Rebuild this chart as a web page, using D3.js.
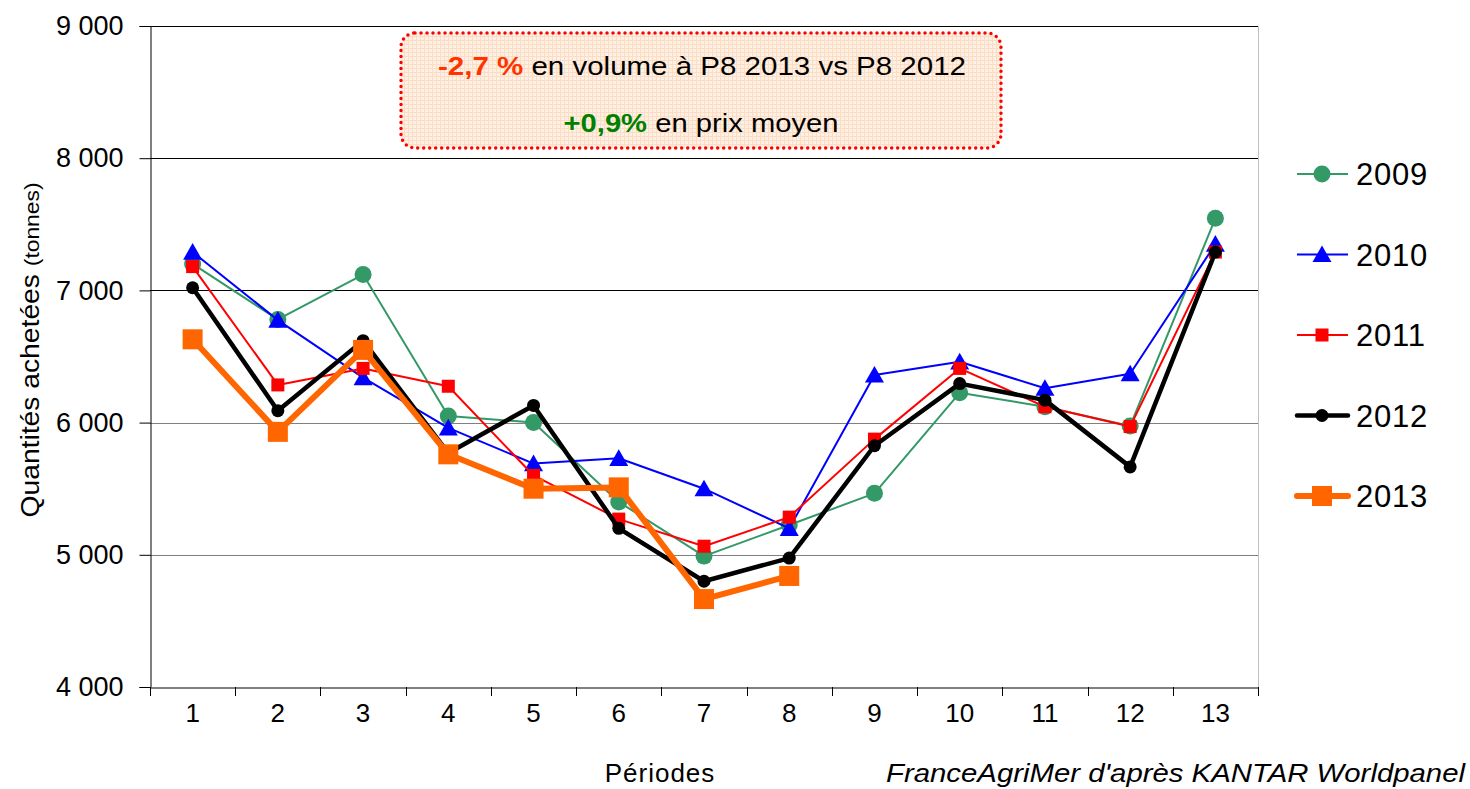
<!DOCTYPE html>
<html><head><meta charset="utf-8">
<script src="https://cdn.jsdelivr.net/npm/d3@7"></script>
<style>body{margin:0;background:#fff}svg{display:block;font-family:"Liberation Sans",Arial,sans-serif}</style>
</head><body><svg id="c" width="1470" height="789"></svg>
<script>
const periods = [1,2,3,4,5,6,7,8,9,10,11,12,13];
const yTicks = [4000,5000,6000,7000,8000,9000];
const years = ["2009","2010","2011","2012","2013"];
const v2009 = [7200,6780,7120,6050,6000,5400,4990,5225,5465,6225,6120,5975,7545];
const v2010 = [7290,6775,6340,5960,5690,5730,5500,5200,6360,6460,6260,6370,7350];
const v2011 = [7180,6285,6410,6275,5600,5270,5065,5285,5875,6410,6120,5970,7290];
const v2012 = [7020,6090,6620,5770,6130,5200,4800,4975,5825,6295,6170,5665,7290];
const v2013 = [6630,5930,6550,5760,5500,5510,4665,4840];

const series = [
  {name:"2009", values:v2009, color:"#339966", width:2, marker:"circle", size:8.5},
  {name:"2010", values:v2010, color:"#0000ff", width:2, marker:"triangle", size:9.5},
  {name:"2011", values:v2011, color:"#ff0000", width:2, marker:"square", size:6.5},
  {name:"2012", values:v2012, color:"#000000", width:4.5, marker:"circle", size:6.5},
  {name:"2013", values:v2013, color:"#ff6600", width:6, marker:"square", size:10}
];

const svg = d3.select("#c");
const L=150, R=1258, T=26, B=687;
const x = d3.scaleBand().domain(periods).range([L,R]);
const cx = d => x(d) + x.bandwidth()/2;
const y = d3.scaleLinear().domain([4000,9000]).range([B,T]);

// gridlines
svg.append("g").selectAll("line").data(yTicks.filter(t=>t>4000)).join("line")
  .attr("x1",L).attr("x2",R).attr("y1",d=>Math.round(y(d))+0.5).attr("y2",d=>Math.round(y(d))+0.5)
  .attr("stroke",d=>d>=7000?"#000":"#808080").attr("stroke-width",1);
// plot border right
svg.append("line").attr("x1",R+0.5).attr("x2",R+0.5).attr("y1",T).attr("y2",B).attr("stroke","#c0c0c0");

// y axis
const fmt = d => d3.format(",")(d).replace(",", " ");
const yAxis = svg.append("g").attr("transform",`translate(${L+0.5},0)`)
  .call(d3.axisLeft(y).tickValues(yTicks).tickSize(11).tickFormat(fmt));
yAxis.select(".domain").attr("stroke","#000");
yAxis.selectAll(".tick line").attr("stroke","#000");
yAxis.selectAll("text").attr("font-size",27).attr("fill","#000").attr("x",-27).attr("font-family","Liberation Sans, Arial");

// x axis
const xAxis = svg.append("g").attr("transform",`translate(0,${B+0.5})`)
  .call(d3.axisBottom(x).tickSize(0).tickPadding(16));
xAxis.select(".domain").attr("stroke","#000");
xAxis.selectAll("text").attr("font-size",26).attr("fill","#000").attr("font-family","Liberation Sans, Arial");
const edges = periods.map(p=>x(p)).concat([R]);
svg.append("g").selectAll("line").data(edges).join("line")
  .attr("x1",d=>Math.round(d)+0.5).attr("x2",d=>Math.round(d)+0.5).attr("y1",B).attr("y2",B+9).attr("stroke","#000");

// axis titles
svg.append("text").attr("x",660).attr("y",782).attr("text-anchor","middle").attr("font-size",26).attr("letter-spacing",1).text("Périodes");
svg.append("text").attr("x",1465).attr("y",782).attr("text-anchor","end").attr("font-size",26).attr("font-style","italic")
  .attr("textLength",579).attr("lengthAdjust","spacingAndGlyphs")
  .text("FranceAgriMer d'après KANTAR Worldpanel");
const yt = svg.append("text").attr("transform","translate(39,350) rotate(-90)").attr("text-anchor","middle").attr("font-size",26)
  .attr("textLength",335).attr("lengthAdjust","spacingAndGlyphs");
yt.append("tspan").text("Quantités achetées ");
yt.append("tspan").attr("font-size",21).text("(tonnes)");

// annotation box
const defs = svg.append("defs");
const pat = defs.append("pattern").attr("id","grid").attr("width",4).attr("height",4).attr("patternUnits","userSpaceOnUse");
pat.append("rect").attr("width",4).attr("height",4).attr("fill","#fef0e4");
pat.append("path").attr("d","M0 0.5H4M0.5 0V4").attr("stroke","#fcdcc2").attr("stroke-width",1);
svg.append("rect").attr("x",401).attr("y",33).attr("width",600).attr("height",115).attr("rx",14)
  .attr("fill","url(#grid)").attr("stroke","#ff0000").attr("stroke-width",3.5).attr("stroke-dasharray","0 6").attr("stroke-linecap","round");
const t1 = svg.append("text").attr("x",702).attr("y",75).attr("text-anchor","middle").attr("font-size",26)
  .attr("textLength",528).attr("lengthAdjust","spacingAndGlyphs");
t1.append("tspan").attr("fill","#ff3300").attr("font-weight","bold").text("-2,7 %");
t1.append("tspan").text(" en volume à P8 2013 vs P8 2012");
const t2 = svg.append("text").attr("x",701).attr("y",132).attr("text-anchor","middle").attr("font-size",26)
  .attr("textLength",275).attr("lengthAdjust","spacingAndGlyphs");
t2.append("tspan").attr("fill","#008000").attr("font-weight","bold").text("+0,9%");
t2.append("tspan").text(" en prix moyen");

// markers
function drawMarker(g, s, px, py){
  if(s.marker==="circle") g.append("circle").attr("cx",px).attr("cy",py).attr("r",s.size).attr("fill",s.color);
  else if(s.marker==="square") g.append("rect").attr("x",px-s.size).attr("y",py-s.size).attr("width",2*s.size).attr("height",2*s.size).attr("fill",s.color);
  else { const h=s.size; g.append("path").attr("d",`M${px},${py-h*0.95}L${px+h},${py+h*0.8}L${px-h},${py+h*0.8}Z`).attr("fill",s.color); }
}
const line = d3.line().x((d,i)=>cx(periods[i])).y(d=>y(d));
series.forEach(s=>{
  const g = svg.append("g");
  g.append("path").attr("d",line(s.values)).attr("fill","none").attr("stroke",s.color).attr("stroke-width",s.width).attr("stroke-linejoin","round");
  s.values.forEach((v,i)=>drawMarker(g,s,cx(periods[i]),y(v)));
});

// legend
const lg = svg.append("g");
series.forEach((s,i)=>{
  const ly = 174 + i*80.5;
  lg.append("line").attr("x1",1297).attr("x2",1348).attr("y1",ly).attr("y2",ly).attr("stroke",s.color).attr("stroke-width",s.width).attr("stroke-linecap",s.width>4?"round":"butt");
  drawMarker(lg,s,1322,ly);
  lg.append("text").attr("x",1356).attr("y",ly+11).attr("font-size",31).attr("letter-spacing",0.8).text(s.name);
});
</script></body></html>
